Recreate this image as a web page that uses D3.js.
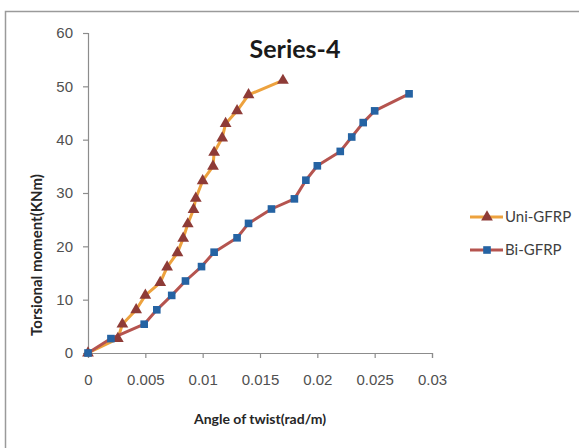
<!DOCTYPE html>
<html>
<head>
<meta charset="utf-8">
<script src="https://cdn.jsdelivr.net/npm/d3@7"></script>
<style>
  body { margin: 0; background: #fff; }
  svg { display: block; font-family: Lato, "Open Sans", sans-serif; }
</style>
</head>
<body>
<svg width="579" height="448"></svg>
<script>
// chart data
const uniX = [0, 0.0026, 0.003, 0.0042, 0.005, 0.0063, 0.0069, 0.0078, 0.0083, 0.0087, 0.0092, 0.0094, 0.01, 0.0109, 0.011, 0.0117, 0.012, 0.013, 0.014, 0.017];
const uniY = [0, 2.7, 5.4, 8.1, 10.8, 13.2, 16.1, 18.8, 21.5, 24.2, 26.9, 29.0, 32.3, 35.0, 37.6, 40.3, 43.0, 45.4, 48.4, 51.1];
const biX = [0, 0.002, 0.0049, 0.006, 0.0073, 0.0085, 0.0099, 0.011, 0.013, 0.014, 0.016, 0.018, 0.019, 0.02, 0.022, 0.023, 0.024, 0.025, 0.028];
const biY = [0, 2.7, 5.4, 8.1, 10.8, 13.5, 16.2, 18.9, 21.6, 24.3, 27.0, 28.9, 32.4, 35.1, 37.8, 40.5, 43.2, 45.4, 48.6];
const xTicks = [0, 0.005, 0.01, 0.015, 0.02, 0.025, 0.03];
const yTicks = [0, 10, 20, 30, 40, 50, 60];
const seriesNames = ['Uni-GFRP', 'Bi-GFRP'];

const margin = { top: 33, right: 147, bottom: 95, left: 88 };
const svg = d3.select('svg');
const W = +svg.attr('width'), H = +svg.attr('height');
const width = W - margin.left - margin.right;   // 344
const height = H - margin.top - margin.bottom;  // 320

// outer chart border
svg.append('rect')
  .attr('x', 5.5).attr('y', 11.5)
  .attr('width', 600).attr('height', 500)
  .attr('fill', 'none')
  .attr('stroke', '#9a9a9a')
  .attr('stroke-width', 1.5);

const g = svg.append('g').attr('transform', `translate(${margin.left},${margin.top})`);

const x = d3.scaleLinear().domain([0, 0.03]).range([0, width]);
const y = d3.scaleLinear().domain([0, 60]).range([height, 0]);

const fmt = d => d === 0 ? '0' : String(+d.toFixed(3));

const xAxis = g.append('g')
  .attr('transform', `translate(0,${height})`)
  .call(d3.axisBottom(x).tickValues(xTicks).tickFormat(fmt).tickSize(5).tickPadding(16));
const yAxis = g.append('g')
  .call(d3.axisLeft(y).tickValues(yTicks).tickSize(5).tickPadding(10));

[xAxis, yAxis].forEach(a => {
  a.select('.domain').attr('stroke', '#8c8c8c').attr('stroke-width', 1.2);
  a.selectAll('.tick line').attr('stroke', '#8c8c8c').attr('stroke-width', 1.2);
  a.selectAll('text').attr('fill', '#505050').style('font-size', '15px');
});

// title
svg.append('text')
  .attr('x', 295).attr('y', 58)
  .attr('text-anchor', 'middle')
  .style('font-size', '25px').style('font-weight', 'bold')
  .attr('fill', '#1a1a1a')
  .text('Series-4');

// axis titles
svg.append('text')
  .attr('x', 260).attr('y', 424)
  .attr('text-anchor', 'middle')
  .style('font-size', '14px').style('font-weight', 'bold')
  .attr('fill', '#262626')
  .text('Angle of twist(rad/m)');

svg.append('text')
  .attr('transform', 'translate(42,255) rotate(-90)')
  .attr('text-anchor', 'middle')
  .style('font-size', '15px').style('font-weight', 'bold')
  .attr('fill', '#262626')
  .text('Torsional moment(KNm)');

const uni = uniX.map((v, i) => [v, uniY[i]]);
const bi = biX.map((v, i) => [v, biY[i]]);

const line = d3.line().x(d => x(d[0])).y(d => y(d[1]));

const styles = [
  { data: uni, stroke: '#EDA23E', marker: '#8E3B37', symbol: d3.symbolTriangle, size: 60 },
  { data: bi, stroke: '#B5544F', marker: '#2563A3', symbol: d3.symbolSquare, size: 58 }
];

styles.forEach(s => {
  g.append('path')
    .datum(s.data)
    .attr('fill', 'none')
    .attr('stroke', s.stroke)
    .attr('stroke-width', 3)
    .attr('stroke-linejoin', 'round')
    .attr('d', line);
});

styles.forEach(s => {
  g.selectAll(null)
    .data(s.data)
    .enter().append('path')
    .attr('transform', d => `translate(${x(d[0])},${y(d[1])})`)
    .attr('d', d3.symbol().type(s.symbol).size(s.size))
    .attr('fill', s.marker);
});

// legend
const legend = svg.append('g');
seriesNames.forEach((name, i) => {
  const s = styles[i];
  const ly = 217 + i * 33;
  legend.append('line')
    .attr('x1', 470).attr('x2', 503).attr('y1', ly).attr('y2', ly)
    .attr('stroke', s.stroke).attr('stroke-width', 3);
  legend.append('path')
    .attr('transform', `translate(487,${ly})`)
    .attr('d', d3.symbol().type(s.symbol).size(s.size))
    .attr('fill', s.marker);
  legend.append('text')
    .attr('x', 505).attr('y', ly + 5)
    .style('font-size', '15px')
    .attr('fill', '#404040')
    .text(name);
});
</script>
</body>
</html>
